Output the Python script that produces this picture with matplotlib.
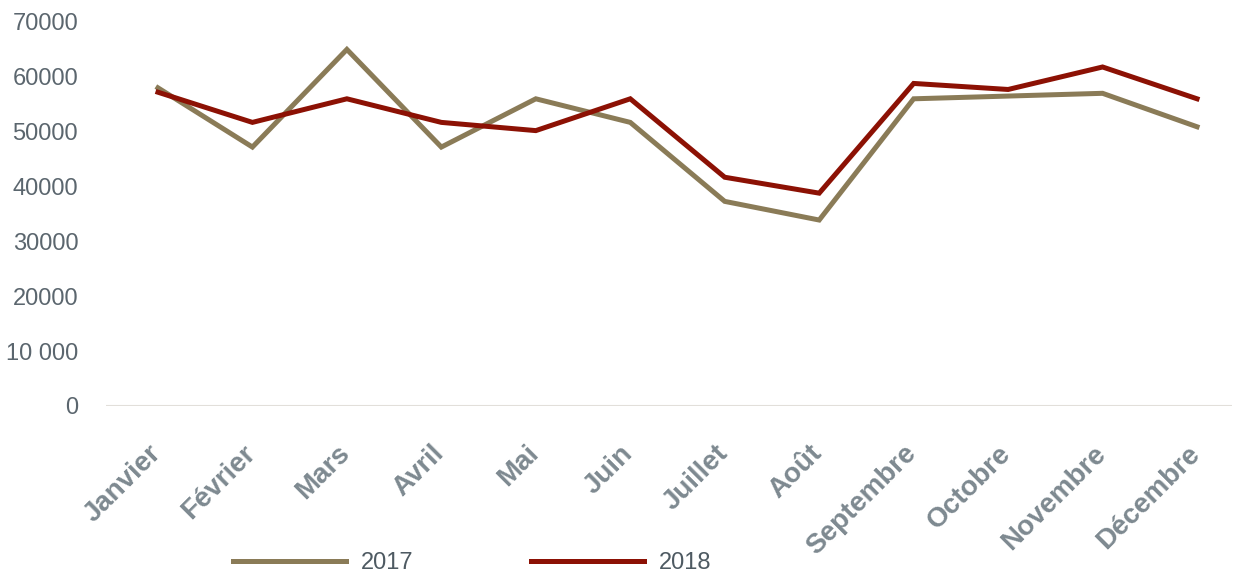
import numpy as np
import matplotlib.pyplot as plt
import matplotlib.transforms as mtransforms

mois = ["Janvier", "Février", "Mars", "Avril", "Mai", "Juin", "Juillet",
        "Août", "Septembre", "Octobre", "Novembre", "Décembre"]
ventes_2017 = [58000, 47200, 65000, 47200, 56000, 51700, 37300,
               33900, 56000, 56500, 57000, 50900]
ventes_2018 = [57200, 51700, 56000, 51700, 50200, 56000, 41700,
               38800, 58800, 57700, 61800, 56000]
y_ticks = [0, 10000, 20000, 30000, 40000, 50000, 60000, 70000]
y_labels = ["0", "10 000", "20000", "30000", "40000", "50000", "60000", "70000"]

plt.rcParams['font.family'] = ['Liberation Sans', 'DejaVu Sans']

fig = plt.figure(figsize=(12.34, 5.76), dpi=100)
ax = fig.add_axes([106 / 1234, 170 / 576, 1126 / 1234, 384 / 576])

x = np.arange(len(mois))
ax.plot(x, ventes_2017, color='#8a7b57', lw=3.6, label='2017', solid_joinstyle='miter')
ax.plot(x, ventes_2018, color='#8c1104', lw=3.6, label='2018', solid_joinstyle='miter')

ax.set_xlim(-0.55, 11.37)
ax.set_ylim(0, 70000)
ax.axhline(0, color='#e2dfda', lw=1.5, zorder=0)

for s in ax.spines.values():
    s.set_visible(False)

ax.set_yticks(y_ticks)
ax.set_yticklabels(y_labels, fontsize=17, color='#5b666e')
ax.tick_params(axis='y', length=0, pad=20)

ax.set_xticks(x)
ax.set_xticklabels(mois, rotation=45, ha='right', rotation_mode='anchor',
                   fontsize=20, fontweight='bold', color='#7d8990')
ax.tick_params(axis='x', length=0, pad=22)
# nudge the rotated month names a little left and down
decalage = mtransforms.ScaledTranslation(-0.1, -0.04, fig.dpi_scale_trans)
for lab in ax.get_xticklabels():
    lab.set_transform(lab.get_transform() + decalage)

leg = fig.legend(loc='center', bbox_to_anchor=(472 / 1234, 13 / 576), ncol=2,
                 frameon=False, fontsize=17, handlelength=4.8,
                 handletextpad=0.6, columnspacing=5.0)
for t in leg.get_texts():
    t.set_color('#4e5a62')

fig.savefig('out.png', dpi=100)
